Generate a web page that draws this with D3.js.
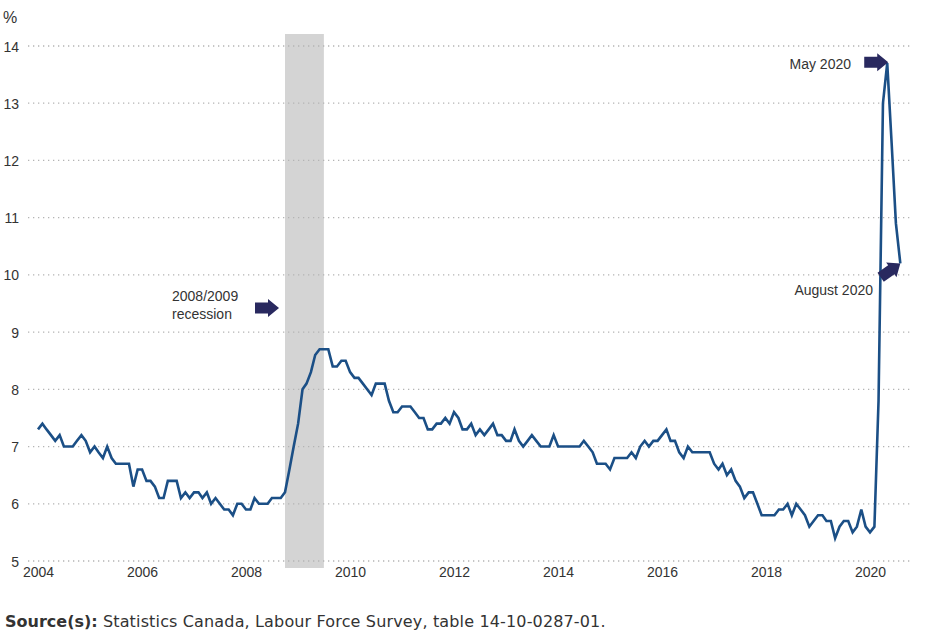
<!DOCTYPE html>
<html>
<head>
<meta charset="utf-8">
<script src="https://cdn.jsdelivr.net/npm/d3@7"></script>
<style>
  body { margin: 0; background: #fff; }
  text { font-family: Arial, "Liberation Sans", sans-serif; fill: #333; }
</style>
</head>
<body>
<svg id="chart" width="927" height="635"></svg>
<script>
// monthly unemployment rate, Jan 2004 to Aug 2020 (%)
var startMonth = "2004-01";
var rates = [
  7.3, 7.4, 7.3, 7.2, 7.1, 7.2, 7.0, 7.0, 7.0, 7.1, 7.2, 7.1,   // 2004
  6.9, 7.0, 6.9, 6.8, 7.0, 6.8, 6.7, 6.7, 6.7, 6.7, 6.3, 6.6,   // 2005
  6.6, 6.4, 6.4, 6.3, 6.1, 6.1, 6.4, 6.4, 6.4, 6.1, 6.2, 6.1,   // 2006
  6.2, 6.2, 6.1, 6.2, 6.0, 6.1, 6.0, 5.9, 5.9, 5.8, 6.0, 6.0,   // 2007
  5.9, 5.9, 6.1, 6.0, 6.0, 6.0, 6.1, 6.1, 6.1, 6.2, 6.6, 7.0,   // 2008
  7.4, 8.0, 8.1, 8.3, 8.6, 8.7, 8.7, 8.7, 8.4, 8.4, 8.5, 8.5,   // 2009
  8.3, 8.2, 8.2, 8.1, 8.0, 7.9, 8.1, 8.1, 8.1, 7.8, 7.6, 7.6,   // 2010
  7.7, 7.7, 7.7, 7.6, 7.5, 7.5, 7.3, 7.3, 7.4, 7.4, 7.5, 7.4,   // 2011
  7.6, 7.5, 7.3, 7.3, 7.4, 7.2, 7.3, 7.2, 7.3, 7.4, 7.2, 7.2,   // 2012
  7.1, 7.1, 7.3, 7.1, 7.0, 7.1, 7.2, 7.1, 7.0, 7.0, 7.0, 7.2,   // 2013
  7.0, 7.0, 7.0, 7.0, 7.0, 7.0, 7.1, 7.0, 6.9, 6.7, 6.7, 6.7,   // 2014
  6.6, 6.8, 6.8, 6.8, 6.8, 6.9, 6.8, 7.0, 7.1, 7.0, 7.1, 7.1,   // 2015
  7.2, 7.3, 7.1, 7.1, 6.9, 6.8, 7.0, 6.9, 6.9, 6.9, 6.9, 6.9,   // 2016
  6.7, 6.6, 6.7, 6.5, 6.6, 6.4, 6.3, 6.1, 6.2, 6.2, 6.0, 5.8,   // 2017
  5.8, 5.8, 5.8, 5.9, 5.9, 6.0, 5.8, 6.0, 5.9, 5.8, 5.6, 5.7,   // 2018
  5.8, 5.8, 5.7, 5.7, 5.4, 5.6, 5.7, 5.7, 5.5, 5.6, 5.9, 5.6,   // 2019
  5.5, 5.6, 7.8, 13.0, 13.7, 12.3, 10.9, 10.2                   // 2020
];
var yTicks = [5, 6, 7, 8, 9, 10, 11, 12, 13, 14];
var xTickYears = [2004, 2006, 2008, 2010, 2012, 2014, 2016, 2018, 2020];
var recession = ["2008-10", "2009-07"];
var notes = [
  { label: "May 2020", month: "2020-05" },
  { label: "August 2020", month: "2020-08" }
];

var parseMonth = d3.timeParse("%Y-%m");
var t0 = parseMonth(startMonth);
var data = rates.map(function(v, i) {
  return { date: d3.timeMonth.offset(t0, i), value: v };
});

var svg = d3.select("#chart");

var x = d3.scaleTime()
  .domain([new Date(2004, 0, 1), new Date(2020, 0, 1)])
  .range([38, 870]);
var y = d3.scaleLinear()
  .domain([5, 14])
  .range([561, 46]);

// recession band
svg.append("rect")
  .attr("x", x(parseMonth(recession[0])))
  .attr("width", x(parseMonth(recession[1])) - x(parseMonth(recession[0])))
  .attr("y", 34)
  .attr("height", 534)
  .attr("fill", "#d4d4d4");

// dotted grid
svg.append("g")
  .selectAll("line")
  .data(yTicks)
  .enter()
  .append("line")
  .attr("x1", 28)
  .attr("x2", 913)
  .attr("y1", function(d) { return y(d); })
  .attr("y2", function(d) { return y(d); })
  .attr("stroke", "#b4b4b4")
  .attr("stroke-width", 1.3)
  .attr("stroke-dasharray", "1.3,3.7");

// y axis labels
var yAxis = d3.axisLeft(y).tickValues(yTicks).tickSize(0).tickPadding(0);
svg.append("g")
  .attr("transform", "translate(19,0)")
  .call(yAxis)
  .call(function(g) { g.select(".domain").remove(); })
  .selectAll("text")
  .attr("font-size", 14)
  .attr("font-family", "Arial, 'Liberation Sans', sans-serif")
  .attr("fill", "#333")
  .attr("dy", "0.36em");

// x axis labels
var xAxis = d3.axisBottom(x)
  .tickValues(xTickYears.map(function(d) { return new Date(d, 0, 1); }))
  .tickFormat(d3.timeFormat("%Y"))
  .tickSize(0)
  .tickPadding(0);
svg.append("g")
  .attr("transform", "translate(0,567)")
  .call(xAxis)
  .call(function(g) { g.select(".domain").remove(); })
  .selectAll("text")
  .attr("font-size", 14)
  .attr("font-family", "Arial, 'Liberation Sans', sans-serif")
  .attr("fill", "#333");

svg.append("text")
  .attr("x", 3)
  .attr("y", 23)
  .attr("font-size", 16)
  .text("%");

// the series
var line = d3.line()
  .x(function(d) { return x(d.date); })
  .y(function(d) { return y(d.value); });

svg.append("path")
  .datum(data)
  .attr("d", line)
  .attr("fill", "none")
  .attr("stroke", "#1b4f86")
  .attr("stroke-width", 2.6)
  .attr("stroke-linejoin", "miter");

// block arrows, tip at origin, pointing along +x
function arrowPath(len, shaft, head, headLen) {
  return "M0,0 L" + (-headLen) + "," + (-head) + " L" + (-headLen) + "," + (-shaft) +
    " L" + (-len) + "," + (-shaft) + " L" + (-len) + "," + shaft +
    " L" + (-headLen) + "," + shaft + " L" + (-headLen) + "," + head + " Z";
}
var arrowColor = "#29295f";

function valueAt(m) {
  var d = parseMonth(m);
  return data.find(function(p) { return +p.date === +d; });
}

// recession note
var rx = x(parseMonth(recession[0])) - 6;
svg.append("path")
  .attr("d", arrowPath(24, 5.5, 9, 11))
  .attr("transform", "translate(" + rx + "," + y(9.42) + ")")
  .attr("fill", arrowColor);
svg.append("text")
  .attr("x", 172)
  .attr("y", 301)
  .attr("font-size", 14)
  .text("2008/2009");
svg.append("text")
  .attr("x", 172)
  .attr("y", 319)
  .attr("font-size", 14)
  .text("recession");

// May 2020
var pMay = valueAt(notes[0].month);
svg.append("path")
  .attr("d", arrowPath(24, 5.5, 9, 11))
  .attr("transform", "translate(" + (x(pMay.date) + 1) + "," + (y(pMay.value) - 1) + ")")
  .attr("fill", arrowColor);
svg.append("text")
  .attr("x", 851)
  .attr("y", 69)
  .attr("text-anchor", "end")
  .attr("font-size", 14)
  .text(notes[0].label);

// August 2020
var pAug = valueAt(notes[1].month);
svg.append("path")
  .attr("d", arrowPath(24, 5.5, 9, 11))
  .attr("transform", "translate(" + x(pAug.date) + "," + y(pAug.value) + ") rotate(-35)")
  .attr("fill", arrowColor);
svg.append("text")
  .attr("x", 873)
  .attr("y", 295)
  .attr("text-anchor", "end")
  .attr("font-size", 14)
  .text(notes[1].label);

// source line
var src = svg.append("text")
  .attr("x", 5)
  .attr("y", 627)
  .attr("font-size", 16)
  .style("font-family", "Verdana, 'DejaVu Sans', sans-serif");
src.append("tspan").attr("font-weight", "bold").text("Source(s):");
src.append("tspan")
  .attr("letter-spacing", 0.15)
  .text(" Statistics Canada, Labour Force Survey, table 14-10-0287-01.");
</script>
</body>
</html>
